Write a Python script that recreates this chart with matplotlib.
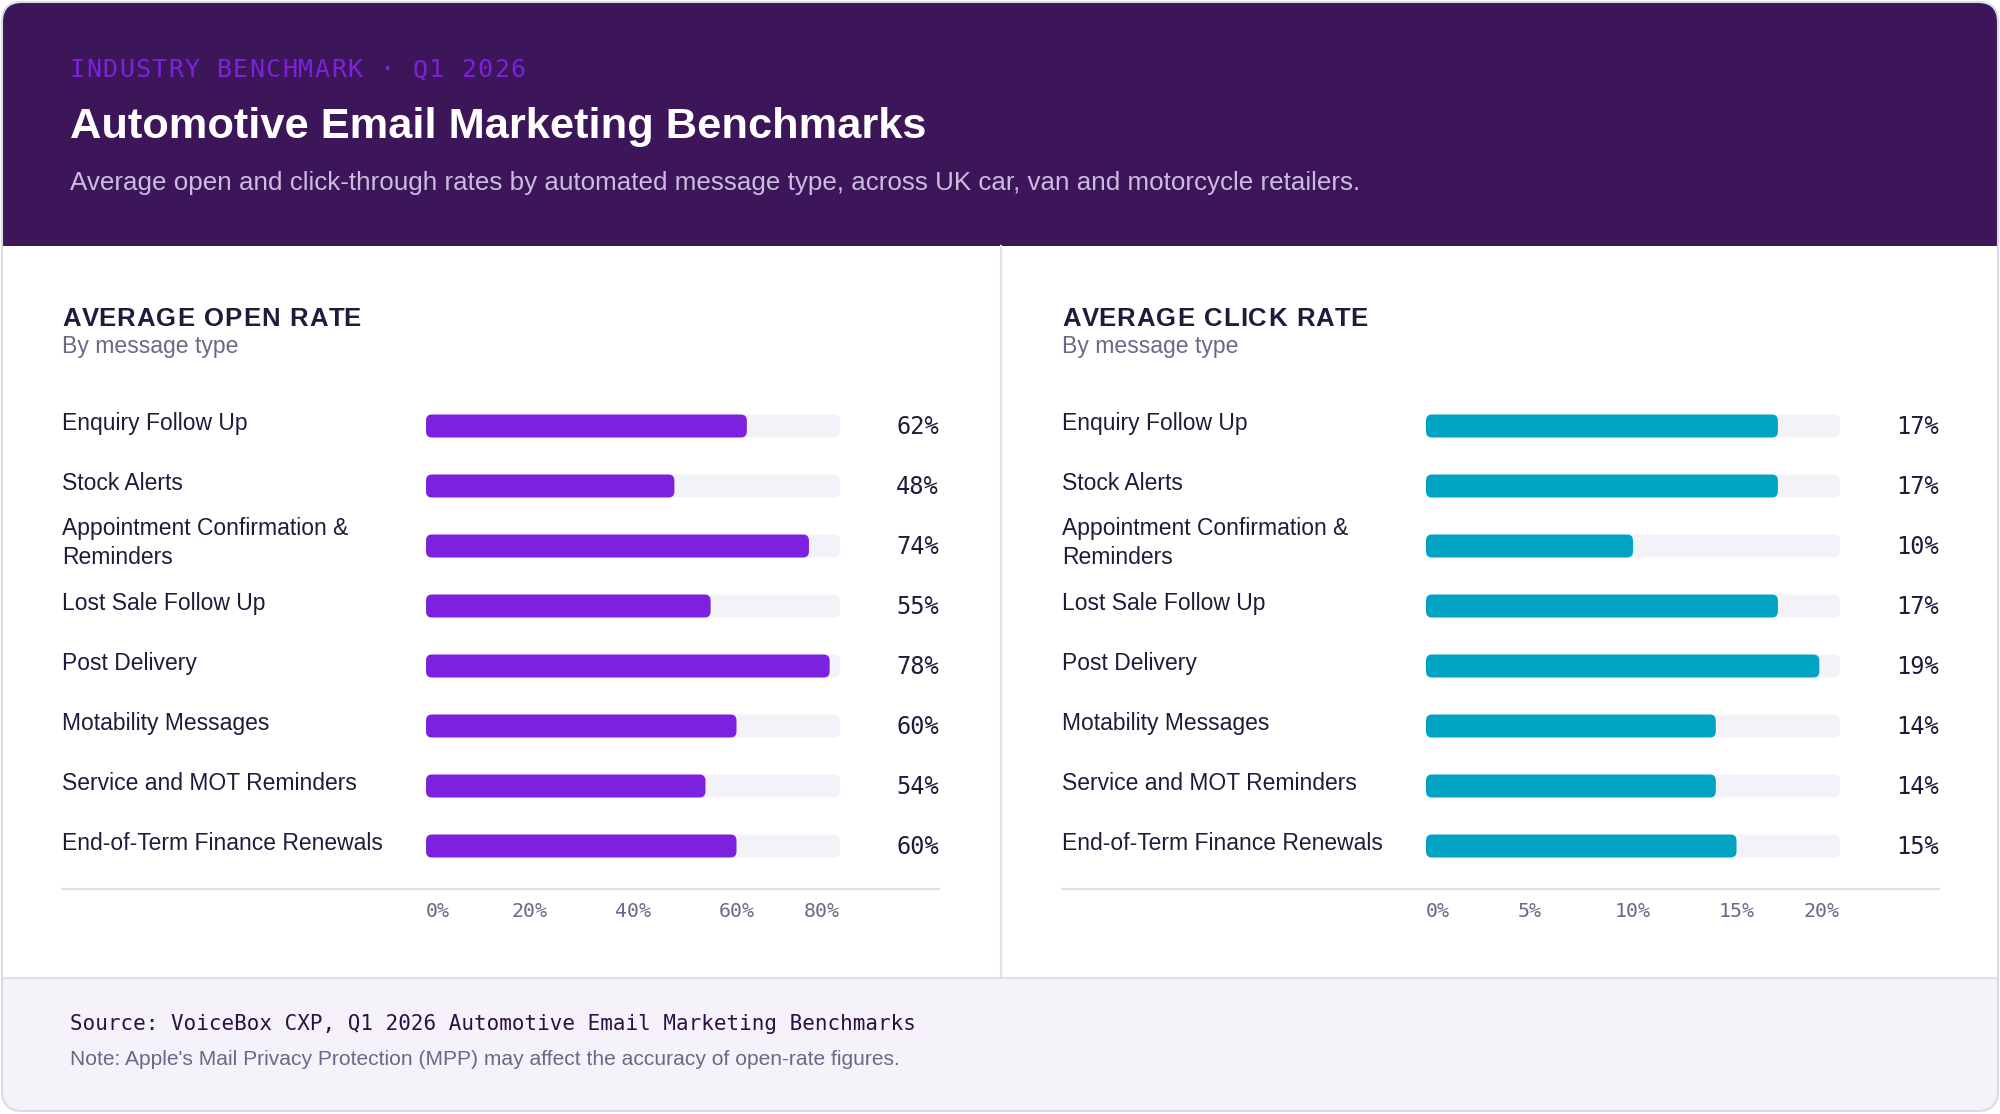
import textwrap
import matplotlib
matplotlib.use("Agg")
import matplotlib.pyplot as plt
from matplotlib.patches import FancyBboxPatch, Rectangle
from matplotlib.transforms import Affine2D, blended_transform_factory
from matplotlib.font_manager import FontProperties

# data
categories = ["Enquiry Follow Up", "Stock Alerts", "Appointment Confirmation & Reminders",
              "Lost Sale Follow Up", "Post Delivery", "Motability Messages",
              "Service and MOT Reminders", "End-of-Term Finance Renewals"]
open_rate = [62, 48, 74, 55, 78, 60, 54, 60]
click_rate = [17, 17, 10, 17, 19, 14, 14, 15]
open_ticks = [0, 20, 40, 60, 80]
click_ticks = [0, 5, 10, 15, 20]

W, H = 2000, 1114
SANS = "Liberation Sans"
MONO = "DejaVu Sans Mono"

HEADER = "#3d1659"
PURPLE = "#7c22de"
TEAL = "#00a3c2"
TRACK = "#f4f2f9"
INK = "#1f1c3b"
MUTED = "#6b6787"
LINE = "#e2dfea"
FOOT_BG = "#f5f3f9"

fig = plt.figure(figsize=(W / 100, H / 100), dpi=100)
fig.patch.set_facecolor("white")
renderer = fig.canvas.get_renderer()

# background axes in pixel units (origin top-left)
bg = fig.add_axes([0, 0, 1, 1])
bg.set_xlim(0, W)
bg.set_ylim(H, 0)
bg.axis("off")


def tracked(x, y, s, spacing, **kw):
    """Draw text with extra letter spacing (px)."""
    prop = FontProperties(family=kw["family"], size=kw["fontsize"],
                          weight=kw.get("fontweight", "normal"))
    bar_w = renderer.get_text_width_height_descent("|", prop, ismath=False)[0]
    for k, ch in enumerate(s):
        if ch == " ":
            continue
        w = renderer.get_text_width_height_descent(s[:k] + "|", prop, ismath=False)[0] - bar_w
        bg.text(x + w + k * spacing, y, ch, va="baseline", **kw)


card = FancyBboxPatch((2, 2), W - 4, H - 5, boxstyle="round,pad=0,rounding_size=20",
                      fc="white", ec="none")
bg.add_patch(card)
header = Rectangle((0, 0), W, 246, fc=HEADER, ec="none")
bg.add_patch(header)
header.set_clip_path(card)
footer = Rectangle((0, 978), W, H - 978, fc=FOOT_BG, ec="none")
bg.add_patch(footer)
footer.set_clip_path(card)
bg.plot([0, W], [978, 978], color=LINE, lw=1.6, clip_path=card)
bg.plot([1001, 1001], [246, 978], color=LINE, lw=1.6)
bg.add_patch(FancyBboxPatch((2, 2), W - 4, H - 5, boxstyle="round,pad=0,rounding_size=20",
                            fc="none", ec="#dcd8e6", lw=1.5))

# header text
eyebrow = "INDUSTRY BENCHMARK · Q1 2026"
for k, ch in enumerate(eyebrow):  # letter-spaced mono
    bg.text(70 + k * 16.3, 77, ch, family=MONO, fontsize=18, color=PURPLE, va="baseline")
bg.text(70, 138, "Automotive Email Marketing Benchmarks", family=SANS, fontsize=31.2,
        fontweight="bold", color="white", va="baseline")
bg.text(70, 190, "Average open and click-through rates by automated message type, across UK car, "
        "van and motorcycle retailers.", family=SANS, fontsize=18.7, color="#cbbde0", va="baseline")

# footer text
bg.text(70, 1030, "Source: VoiceBox CXP, Q1 2026 Automotive Email Marketing Benchmarks",
        family=MONO, fontsize=15, color="#2a1045", va="baseline")
bg.text(70, 1065, "Note: Apple's Mail Privacy Protection (MPP) may affect the accuracy of "
        "open-rate figures.", family=SANS, fontsize=15.1, color=MUTED, va="baseline")

px = Affine2D().scale(1 / W, -1 / H).translate(0, 1) + fig.transFigure
ROW = 60.0


def panel(x0, title, values, ticks, color):
    tracked(x0, 326, title, 1.1, family=SANS, fontsize=18.5, fontweight="bold", color=INK)
    bg.text(x0, 353, "By message type", family=SANS, fontsize=16.6, color=MUTED, va="baseline")

    left, width = x0 + 364, 414
    top = 396
    n = len(values)
    ax = fig.add_axes([left / W, 1 - (top + n * ROW) / H, width / W, n * ROW / H])
    ax.set_xlim(0, ticks[-1])
    ax.set_ylim(n - 0.5, -0.5)
    ax.set_facecolor("none")
    for s in ax.spines.values():
        s.set_visible(False)

    bh = 23 / ROW
    xpx = width / ticks[-1]
    r = 6 / xpx
    asp = xpx / ROW
    for i, v in enumerate(values):
        ax.add_patch(FancyBboxPatch((0, i - bh / 2), ticks[-1], bh,
                                    boxstyle=f"round,pad=0,rounding_size={r}",
                                    mutation_aspect=asp, fc=TRACK, ec="none"))
        ax.add_patch(FancyBboxPatch((0, i - bh / 2), v, bh,
                                    boxstyle=f"round,pad=0,rounding_size={r}",
                                    mutation_aspect=asp, fc=color, ec="none"))

    tr = blended_transform_factory(px, ax.transData)
    for i, (cat, v) in enumerate(zip(categories, values)):
        lines = textwrap.wrap(cat, 28)
        for k, line in enumerate(lines):
            off = (4 + (k - (len(lines) - 1) / 2) * 29) / ROW
            ax.text(x0, i + off, line, transform=tr, family=SANS, fontsize=16.5,
                    color=INK, va="baseline", clip_on=False)
        ax.text(x0 + 877, i + 8 / ROW, f"{v}%", transform=tr, family=MONO, fontsize=17,
                color=INK, ha="right", va="baseline", clip_on=False)

    bg.plot([x0, x0 + 877], [889, 889], color=LINE, lw=1.6)

    ax.set_yticks([])
    ax.set_xticks(ticks, labels=[f"{t}%" for t in ticks])
    ax.tick_params(axis="x", length=0, pad=19, labelsize=14.3, labelcolor=MUTED)
    labs = ax.get_xticklabels()
    for lab in labs:
        lab.set_fontfamily(MONO)
    labs[0].set_ha("left")
    labs[-1].set_ha("right")


panel(62, "AVERAGE OPEN RATE", open_rate, open_ticks, PURPLE)
panel(1062, "AVERAGE CLICK RATE", click_rate, click_ticks, TEAL)

fig.savefig("out.png", dpi=100, facecolor=fig.get_facecolor())
